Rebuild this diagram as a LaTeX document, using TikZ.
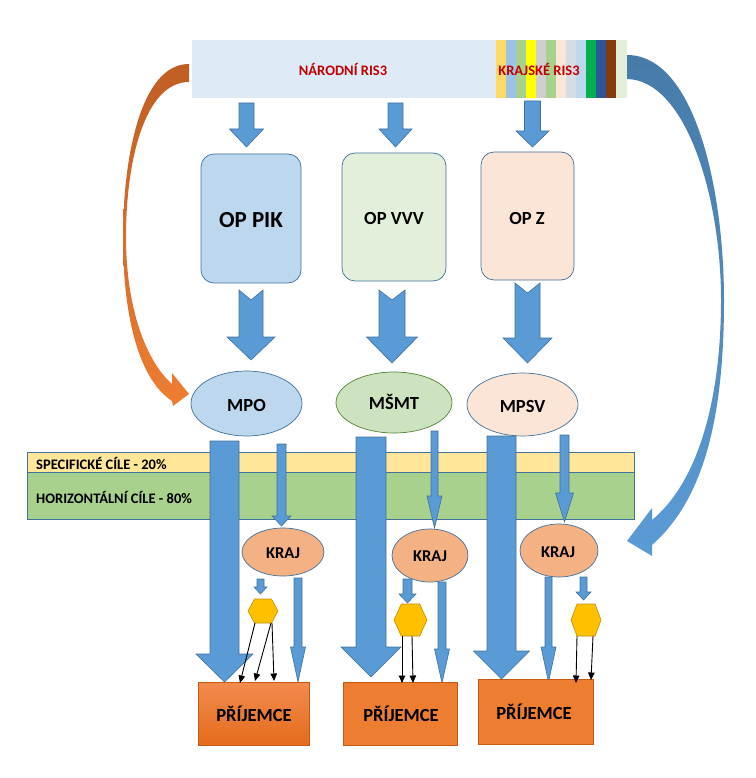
\documentclass[tikz,border=0pt]{standalone}
\usepackage{fontspec}
\setmainfont{Carlito}
\usetikzlibrary{calc,shapes.geometric,arrows.meta}
\definecolor{barfill}{HTML}{DEEBF7}
\definecolor{risred}{HTML}{C00000}
\definecolor{edgeblue}{HTML}{41719C}
\definecolor{arrblue}{HTML}{5B9BD5}
\definecolor{curveblueA}{HTML}{477BA8}
\definecolor{orangeA}{HTML}{C05E24}
\definecolor{pikfill}{HTML}{BDD7EE}
\definecolor{vvvfill}{HTML}{E2EFDA}
\definecolor{zfill}{HTML}{FBE5D6}
\definecolor{msmtfill}{HTML}{CDE2BE}
\definecolor{msmtedge}{HTML}{548235}
\definecolor{krajfill}{HTML}{F4B183}
\definecolor{specfill}{HTML}{FFE699}
\definecolor{horfill}{HTML}{A9D18E}
\definecolor{hexfill}{HTML}{FFC000}
\definecolor{hexedge}{HTML}{BF9000}
\definecolor{prijfill}{HTML}{ED7D31}
\definecolor{prijtop}{HTML}{F28B4E}
\definecolor{prijbot}{HTML}{E46C1C}
\definecolor{prijedge}{HTML}{C55A11}
\definecolor{sA}{HTML}{FFD966}
\definecolor{sB}{HTML}{9DC3E6}
\definecolor{sC}{HTML}{A9D18E}
\definecolor{sD}{HTML}{FFFF00}
\definecolor{sE}{HTML}{D0CECE}
\definecolor{sF}{HTML}{A9D18E}
\definecolor{sG}{HTML}{FBE5D6}
\definecolor{sH}{HTML}{D6DCE5}
\definecolor{sI}{HTML}{BDD7EE}
\definecolor{sJ}{HTML}{00B050}
\definecolor{sK}{HTML}{2F5597}
\definecolor{sL}{HTML}{843C0C}
\definecolor{sM}{HTML}{E2F0D9}
\newcommand\blockarr[7]{%
  \path[blockarrow] ({#1-#5},#2) -- ({#1},{#2+#7}) -- ({#1+#5},#2) -- ({#1+#5},#3) -- ({#1+#6},#3) -- ({#1},#4) -- ({#1-#6},#3) -- ({#1-#5},#3) -- cycle;}
\newcommand\hexa[5]{% cx cy halfw halfh inset
  \path[hexstyle] ({#1-#3},#2) -- ({#1-#3+#5},{#2-#4}) -- ({#1+#3-#5},{#2-#4}) -- ({#1+#3},#2) -- ({#1+#3-#5},{#2+#4}) -- ({#1-#3+#5},{#2+#4}) -- cycle;}
\tikzset{
  txt/.style={font=\bfseries\fontsize{#1}{#1}\selectfont, inner sep=0pt},
  blockarrow/.style={fill=arrblue, draw=edgeblue, line width=0.6pt, line join=miter},
  hexstyle/.style={fill=hexfill, draw=hexedge, line width=0.6pt},
  opbox/.style={rectangle, rounded corners=13pt, draw=edgeblue, line width=0.7pt, inner sep=0pt},
  oval/.style={ellipse, draw=edgeblue, line width=0.7pt, inner sep=0pt},
  band/.style={rectangle, draw=edgeblue, line width=0.9pt, inner sep=0pt, anchor=north west},
  prij/.style={rectangle, draw=prijedge, line width=0.7pt, inner sep=0pt},
  thinarr/.style={black, line width=0.9pt, -{Triangle[length=7.5pt,width=6.5pt]}}
}
\begin{document}
\begin{tikzpicture}[x=1pt,y=-1pt]
\useasboundingbox (0,0) rectangle (755,778);

% top bar
\node[rectangle, fill=barfill, inner sep=0pt, minimum width=435pt, minimum height=58pt, anchor=north west] (bar) at (192,40) {};
\fill[sA] (496,40) rectangle (506,98);
\fill[sB] (506,40) rectangle (516,98);
\fill[sC] (516,40) rectangle (526,98);
\fill[sD] (526,40) rectangle (536,98);
\fill[sE] (536,40) rectangle (546,98);
\fill[sF] (546,40) rectangle (556,98);
\fill[sG] (556,40) rectangle (566,98);
\fill[sH] (566,40) rectangle (576,98);
\fill[sI] (576,40) rectangle (586,98);
\fill[sJ] (586,40) rectangle (596,98);
\fill[sK] (596,40) rectangle (606,98);
\fill[sL] (606,40) rectangle (616,98);
\fill[sM] (616,40) rectangle (627,98);
\node[txt=14.5, text=risred] (narodni) at (343,69) {NÁRODNÍ RIS3};
\node[txt=14.5, text=risred] (krajske) at (539,69) {KRAJSKÉ RIS3};

% curved arrows
\shade[top color=orangeA, bottom color=prijfill]
 (189,64) .. controls (140,64) and (123,160) .. (123,237)
 .. controls (123,320) and (140,380) .. (172,401)
 -- (173,406) -- (189,394) -- (172,373) -- (172,384)
 .. controls (147,362) and (126,310) .. (126,237)
 .. controls (126,160) and (145,82) .. (189,82) -- cycle;
\shade[top color=curveblueA, bottom color=arrblue]
 (627,55) .. controls (695,55) and (724,190) .. (724,300)
 .. controls (724,420) and (703,500) .. (652,545)
 -- (652,556) -- (627,541) -- (652,508) -- (652,520)
 .. controls (698,482) and (721,400) .. (721,300)
 .. controls (721,195) and (685,80) .. (627,79) -- cycle;

% top arrows
\blockarr{246.5}{103}{129}{147}{7.5}{17}{0}
\blockarr{395.5}{103}{129}{147}{7.5}{16.5}{0}
\blockarr{532.5}{101}{131}{147}{8}{16.5}{0}

% OP boxes
\node[opbox, fill=pikfill, minimum width=100pt, minimum height=129pt] (pik) at (251,218.5) {};
\node[txt=23] (pikt) at (251,220) {OP PIK};
\node[opbox, fill=vvvfill, minimum width=104pt, minimum height=128pt] (vvv) at (394,217) {};
\node[txt=18.5] (vvvt) at (394,218) {OP VVV};
\node[opbox, fill=zfill, minimum width=93pt, minimum height=128pt] (opz) at (527.5,216) {};
\node[txt=18.5] (opzt) at (527,218) {OP Z};

% middle arrows (notched)
\blockarr{251}{290}{337}{360}{12}{24}{10}
\blockarr{392}{290}{337}{363}{13}{25.5}{10}
\blockarr{527.5}{283}{338}{363}{12.5}{24.5}{10}

% ministries
\node[oval, fill=pikfill, minimum width=111pt, minimum height=65pt] (mpo) at (246.5,403.5) {};
\node[txt=18.5] (mpot) at (246.5,405) {MPO};
\node[oval, fill=msmtfill, draw=msmtedge, minimum width=116pt, minimum height=61pt] (msmt) at (394,402.5) {};
\node[txt=18.5] (msmtt) at (394,402) {MŠMT};
\node[oval, fill=zfill, minimum width=111pt, minimum height=63pt] (mpsv) at (522.5,404.5) {};
\node[txt=18.5] (mpsvt) at (522.5,406) {MPSV};

% bands
\node[band, fill=specfill, minimum width=607pt, minimum height=20pt] (spec) at (27,452) {};
\node[band, fill=horfill, minimum width=607pt, minimum height=47pt] (hor) at (27,472) {};
\node[txt=14.5, anchor=west] (spect) at (36,463) {SPECIFICKÉ CÍLE - 20\%};
\node[txt=14.5, anchor=west] (hort) at (36,497) {HORIZONTÁLNÍ CÍLE - 80\%};

% big vertical arrows
\blockarr{224.5}{441}{654}{682}{14.5}{28.5}{0}
\blockarr{371}{437}{647}{677}{15}{30}{0}
\blockarr{501.5}{436}{651}{679}{14.5}{28}{0}

% medium arrows ministry -> kraj
\blockarr{281.5}{444}{516}{526}{4.5}{9.5}{0}
\blockarr{434.5}{431}{496}{528}{3.5}{7.5}{0}
\blockarr{564.5}{435}{493}{522}{4.5}{9}{0}

% kraj
\node[oval, fill=krajfill, minimum width=82pt, minimum height=48pt] (kraj1) at (283,552) {};
\node[txt=16.5] (kraj1t) at (283,553) {KRAJ};
\node[oval, fill=krajfill, minimum width=76pt, minimum height=53pt] (kraj2) at (430,555.5) {};
\node[txt=16.5] (kraj2t) at (430,556) {KRAJ};
\node[oval, fill=krajfill, minimum width=78pt, minimum height=53pt] (kraj3) at (559,550.5) {};
\node[txt=16.5] (kraj3t) at (558,552) {KRAJ};

% small arrows kraj -> hexagon
\blockarr{260.5}{579}{587}{594}{3.5}{6.5}{0}
\blockarr{407.5}{579}{594}{603}{4.5}{8.5}{0}
\blockarr{583.5}{577}{592}{600}{3.5}{7.5}{0}

% long thin arrows kraj -> prijemce
\blockarr{298}{578}{647}{682}{4}{7.5}{0}
\blockarr{442}{582}{649}{683}{4}{7.5}{0}
\blockarr{548.5}{577}{647}{682}{3.5}{7.5}{0}

% hexagons
\hexa{263}{611}{15}{12}{6.5}
\hexa{410.5}{620}{16.5}{16}{7.3}
\hexa{586}{620}{15}{16}{6}
\coordinate (h1a) at (255,623);
\coordinate (h1b) at (271,623);
\coordinate (h1c) at (272,623);
\coordinate (h2a) at (402,636);
\coordinate (h2b) at (412,636);
\coordinate (h3a) at (577,636);
\coordinate (h3b) at (593,636);

% recipients
\node[prij, top color=prijtop, bottom color=prijbot, minimum width=111pt, minimum height=63pt] (p1) at (253.5,713.5) {};
\node[txt=18.5] (p1t) at (254,714) {PŘÍJEMCE};
\node[prij, fill=prijfill, minimum width=114pt, minimum height=63pt] (p2) at (400,713.5) {};
\node[txt=18.5] (p2t) at (401,714) {PŘÍJEMCE};
\node[prij, fill=prijfill, minimum width=115pt, minimum height=65pt] (p3) at (535.5,711.5) {};
\node[txt=18.5] (p3t) at (534,712) {PŘÍJEMCE};

% thin black arrows
\coordinate (e1a) at (240,683);
\coordinate (e1b) at (255,681);
\coordinate (e1c) at (274,681);
\coordinate (e2a) at (402,683);
\coordinate (e2b) at (413,683);
\coordinate (e3a) at (576,683);
\coordinate (e3b) at (591,680);
\draw[thinarr] (h1a) -- (e1a);
\draw[thinarr] (h1b) -- (e1b);
\draw[thinarr] (h1c) -- (e1c);
\draw[thinarr] (h2a) -- (e2a);
\draw[thinarr] (h2b) -- (e2b);
\draw[thinarr] (h3a) -- (e3a);
\draw[thinarr] (h3b) -- (e3b);
\end{tikzpicture}
\end{document}
